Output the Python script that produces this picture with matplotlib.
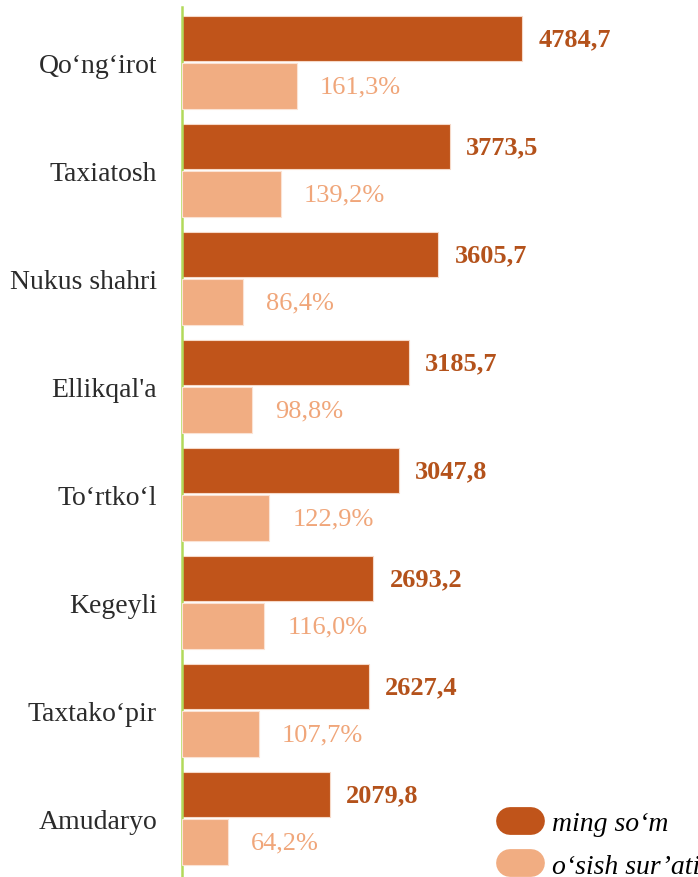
import matplotlib.pyplot as plt
from matplotlib.lines import Line2D

districts = ['Qo‘ng‘irot', 'Taxiatosh', 'Nukus shahri', "Ellikqal'a",
             'To‘rtko‘l', 'Kegeyli', 'Taxtako‘pir', 'Amudaryo']
ming_som = [4784.7, 3773.5, 3605.7, 3185.7, 3047.8, 2693.2, 2627.4, 2079.8]
osish = [161.3, 139.2, 86.4, 98.8, 122.9, 116.0, 107.7, 64.2]

dark = '#c0541a'
light = '#f1ad82'
dark_txt = '#b4521b'
light_txt = '#f0a67a'

plt.rcParams['font.family'] = ['Liberation Serif', 'DejaVu Serif']

fig = plt.figure(figsize=(6.98, 8.78), dpi=100)
W, H = 698, 878
ax = fig.add_axes([182 / W, 0, 516 / W, 870 / H])
ax2 = ax.twiny()

xmax = 7257
ax.set_xlim(0, xmax)
ax2.set_xlim(0, xmax / 10)

y = list(range(len(districts)))
y_dark = [i - 0.22 for i in y]
y_light = [i + 0.22 for i in y]

ax.barh(y_dark, ming_som, height=0.42, color=dark, edgecolor='#f6d9c8', linewidth=0.8)
ax2.barh(y_light, osish, height=0.42, color=light, edgecolor='#fbe3d4', linewidth=0.8)

for yy, v in zip(y_dark, ming_som):
    ax.annotate(f'{v:.1f}'.replace('.', ','), (v, yy), xytext=(16, 0),
                textcoords='offset pixels', va='center', ha='left',
                fontsize=19, fontweight='bold', color=dark_txt)
for yy, v in zip(y_light, osish):
    ax2.annotate(f'{v:.1f}'.replace('.', ',') + '%', (v, yy), xytext=(23, 0),
                 textcoords='offset pixels', va='center', ha='left',
                 fontsize=19, color=light_txt)

ax.set_ylim(7.544, -0.512)
ax.set_yticks(y)
ax.set_yticklabels(districts, fontsize=20, color='#2b2b2b')
ax.tick_params(axis='y', length=0, pad=18)
ax.tick_params(axis='x', bottom=False, labelbottom=False)
ax2.tick_params(axis='x', top=False, labeltop=False)

for a in (ax, ax2):
    for s in ('top', 'right', 'bottom'):
        a.spines[s].set_visible(False)
ax2.spines['left'].set_visible(False)
ax.spines['left'].set_color('#b2d95a')
ax.spines['left'].set_linewidth(1.8)

handles = [Line2D([0], [0], color=dark, lw=20, solid_capstyle='round'),
           Line2D([0], [0], color=light, lw=20, solid_capstyle='round')]
fig.legend(handles, ['ming so‘m', 'o‘sish sur’ati'], loc='upper left',
           bbox_to_anchor=(510 / W, 1 - 812 / H), frameon=False,
           prop={'family': 'Liberation Serif', 'style': 'italic', 'size': 20},
           handlelength=0.75, handletextpad=0.75, labelspacing=0.62,
           borderaxespad=0, borderpad=0)

fig.savefig('out.png', dpi=100)
